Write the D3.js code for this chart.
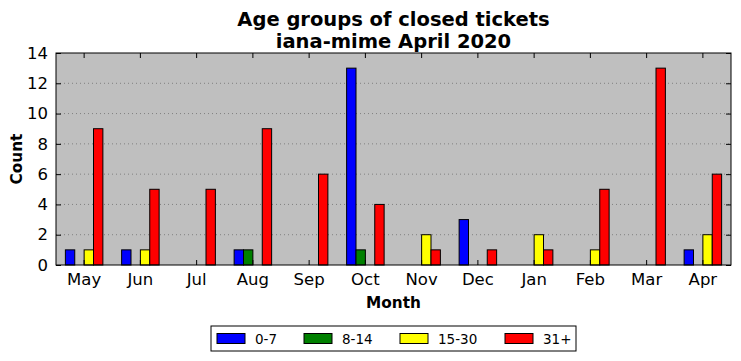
<!DOCTYPE html>
<html>
<head>
<meta charset="utf-8">
<script src="https://cdn.jsdelivr.net/npm/d3@7"></script>
<style>
  body { margin: 0; background: #fff; }
  text { font-family: "DejaVu Sans", sans-serif; }
</style>
</head>
<body>
<div id="chart"></div>
<script>
const months = ["May", "Jun", "Jul", "Aug", "Sep", "Oct", "Nov", "Dec", "Jan", "Feb", "Mar", "Apr"];
const groups = ["0-7", "8-14", "15-30", "31+"];
const colors = ["#0000ff", "#008000", "#ffff00", "#ff0000"];

const age0to7 = [1, 1, 0, 1, 0, 13, 0, 3, 0, 0, 0, 1];
const age8to14 = [0, 0, 0, 1, 0, 1, 0, 0, 0, 0, 0, 0];
const age15to30 = [1, 1, 0, 0, 0, 0, 2, 0, 2, 1, 0, 2];
const age31plus = [9, 5, 5, 9, 6, 4, 1, 1, 1, 5, 13, 6];
const series = [age0to7, age8to14, age15to30, age31plus];

const yTicks = [0, 2, 4, 6, 8, 10, 12, 14];

const W = 741, H = 361;
const margin = { top: 53, right: 10, bottom: 96, left: 56 };
const width = W - margin.left - margin.right,
  height = H - margin.top - margin.bottom;

const svg = d3.select("#chart").append("svg")
  .attr("width", W).attr("height", H);

const g = svg.append("g")
  .attr("transform", `translate(${margin.left}, ${margin.top})`);

const x = d3.scaleBand().domain(months).range([0, width]).padding(0);
const bw = x.bandwidth() / 6;
const xSub = d3.scaleBand().domain(groups).range([bw, 5 * bw]).padding(0);
const y = d3.scaleLinear().domain([0, 14]).range([height, 0]);

g.append("rect")
  .attr("width", width).attr("height", height)
  .attr("fill", "#bfbfbf");

// dotted grid
g.selectAll(".grid").data(yTicks.slice(1, -1)).enter()
  .append("line")
  .attr("x1", 0).attr("x2", width)
  .attr("y1", d => y(d)).attr("y2", d => y(d))
  .attr("stroke", "#808080").attr("stroke-width", 1)
  .attr("stroke-dasharray", "1,3");

// bars
const data = months.map((m, i) => groups.map((k, j) => ({ month: m, key: k, value: series[j][i], color: colors[j] })));
g.append("g").selectAll("g").data(data).enter()
  .append("g")
  .attr("transform", d => `translate(${x(d[0].month)},0)`)
  .selectAll("rect").data(d => d).enter()
  .append("rect")
  .attr("x", d => xSub(d.key))
  .attr("width", xSub.bandwidth())
  .attr("y", d => y(d.value))
  .attr("height", d => y(0) - y(d.value))
  .attr("fill", d => d.color)
  .attr("stroke", "#000")
  .attr("stroke-width", 1);

// axes
const xAxis = g.append("g")
  .attr("transform", `translate(0, ${height})`)
  .call(d3.axisBottom(x).tickSizeInner(-5).tickSizeOuter(0).tickPadding(8));
const xTop = g.append("g")
  .call(d3.axisTop(x).tickSizeInner(-5).tickSizeOuter(0).tickFormat(""));
const yAxis = g.append("g")
  .call(d3.axisLeft(y).tickValues(yTicks).tickSizeInner(-5).tickSizeOuter(0).tickPadding(8));
const yRight = g.append("g")
  .attr("transform", `translate(${width}, 0)`)
  .call(d3.axisRight(y).tickValues(yTicks).tickSizeInner(-5).tickSizeOuter(0).tickFormat(""));

[xAxis, xTop, yAxis, yRight].forEach(a => {
  a.select(".domain").remove();
  a.selectAll("line").attr("stroke", "#000");
  a.selectAll("text").attr("font-size", "16.5px").attr("fill", "#000")
    .attr("font-family", "DejaVu Sans, sans-serif");
});

g.append("rect")
  .attr("width", width).attr("height", height)
  .attr("fill", "none").attr("stroke", "#000").attr("stroke-width", 1);

// titles
svg.append("text").attr("x", margin.left + width / 2).attr("y", 26)
  .attr("text-anchor", "middle").attr("font-size", "19.5px").attr("font-weight", "bold")
  .text("Age groups of closed tickets");
svg.append("text").attr("x", margin.left + width / 2).attr("y", 48)
  .attr("text-anchor", "middle").attr("font-size", "19.5px").attr("font-weight", "bold")
  .text("iana-mime April 2020");

svg.append("text").attr("x", margin.left + width / 2).attr("y", 308)
  .attr("text-anchor", "middle").attr("font-size", "15.3px").attr("font-weight", "bold")
  .text("Month");
svg.append("text")
  .attr("transform", `translate(22, ${margin.top + height / 2}) rotate(-90)`)
  .attr("text-anchor", "middle").attr("font-size", "15.3px").attr("font-weight", "bold")
  .text("Count");

// legend
const legend = svg.append("g").attr("transform", "translate(211, 326)");
legend.append("rect").attr("width", 365).attr("height", 25)
  .attr("fill", "#fff").attr("stroke", "#000").attr("stroke-width", 1);
const legendX = [6, 93, 189, 294];
const item = legend.selectAll(".item").data(groups).enter()
  .append("g").attr("transform", (d, i) => `translate(${legendX[i]}, 0)`);
item.append("rect").attr("y", 7.5).attr("width", 28).attr("height", 10)
  .attr("fill", (d, i) => colors[i]).attr("stroke", "#000").attr("stroke-width", 1);
item.append("text").attr("x", 38).attr("y", 17.5)
  .attr("font-size", "13.5px").text(d => d);
</script>
</body>
</html>
